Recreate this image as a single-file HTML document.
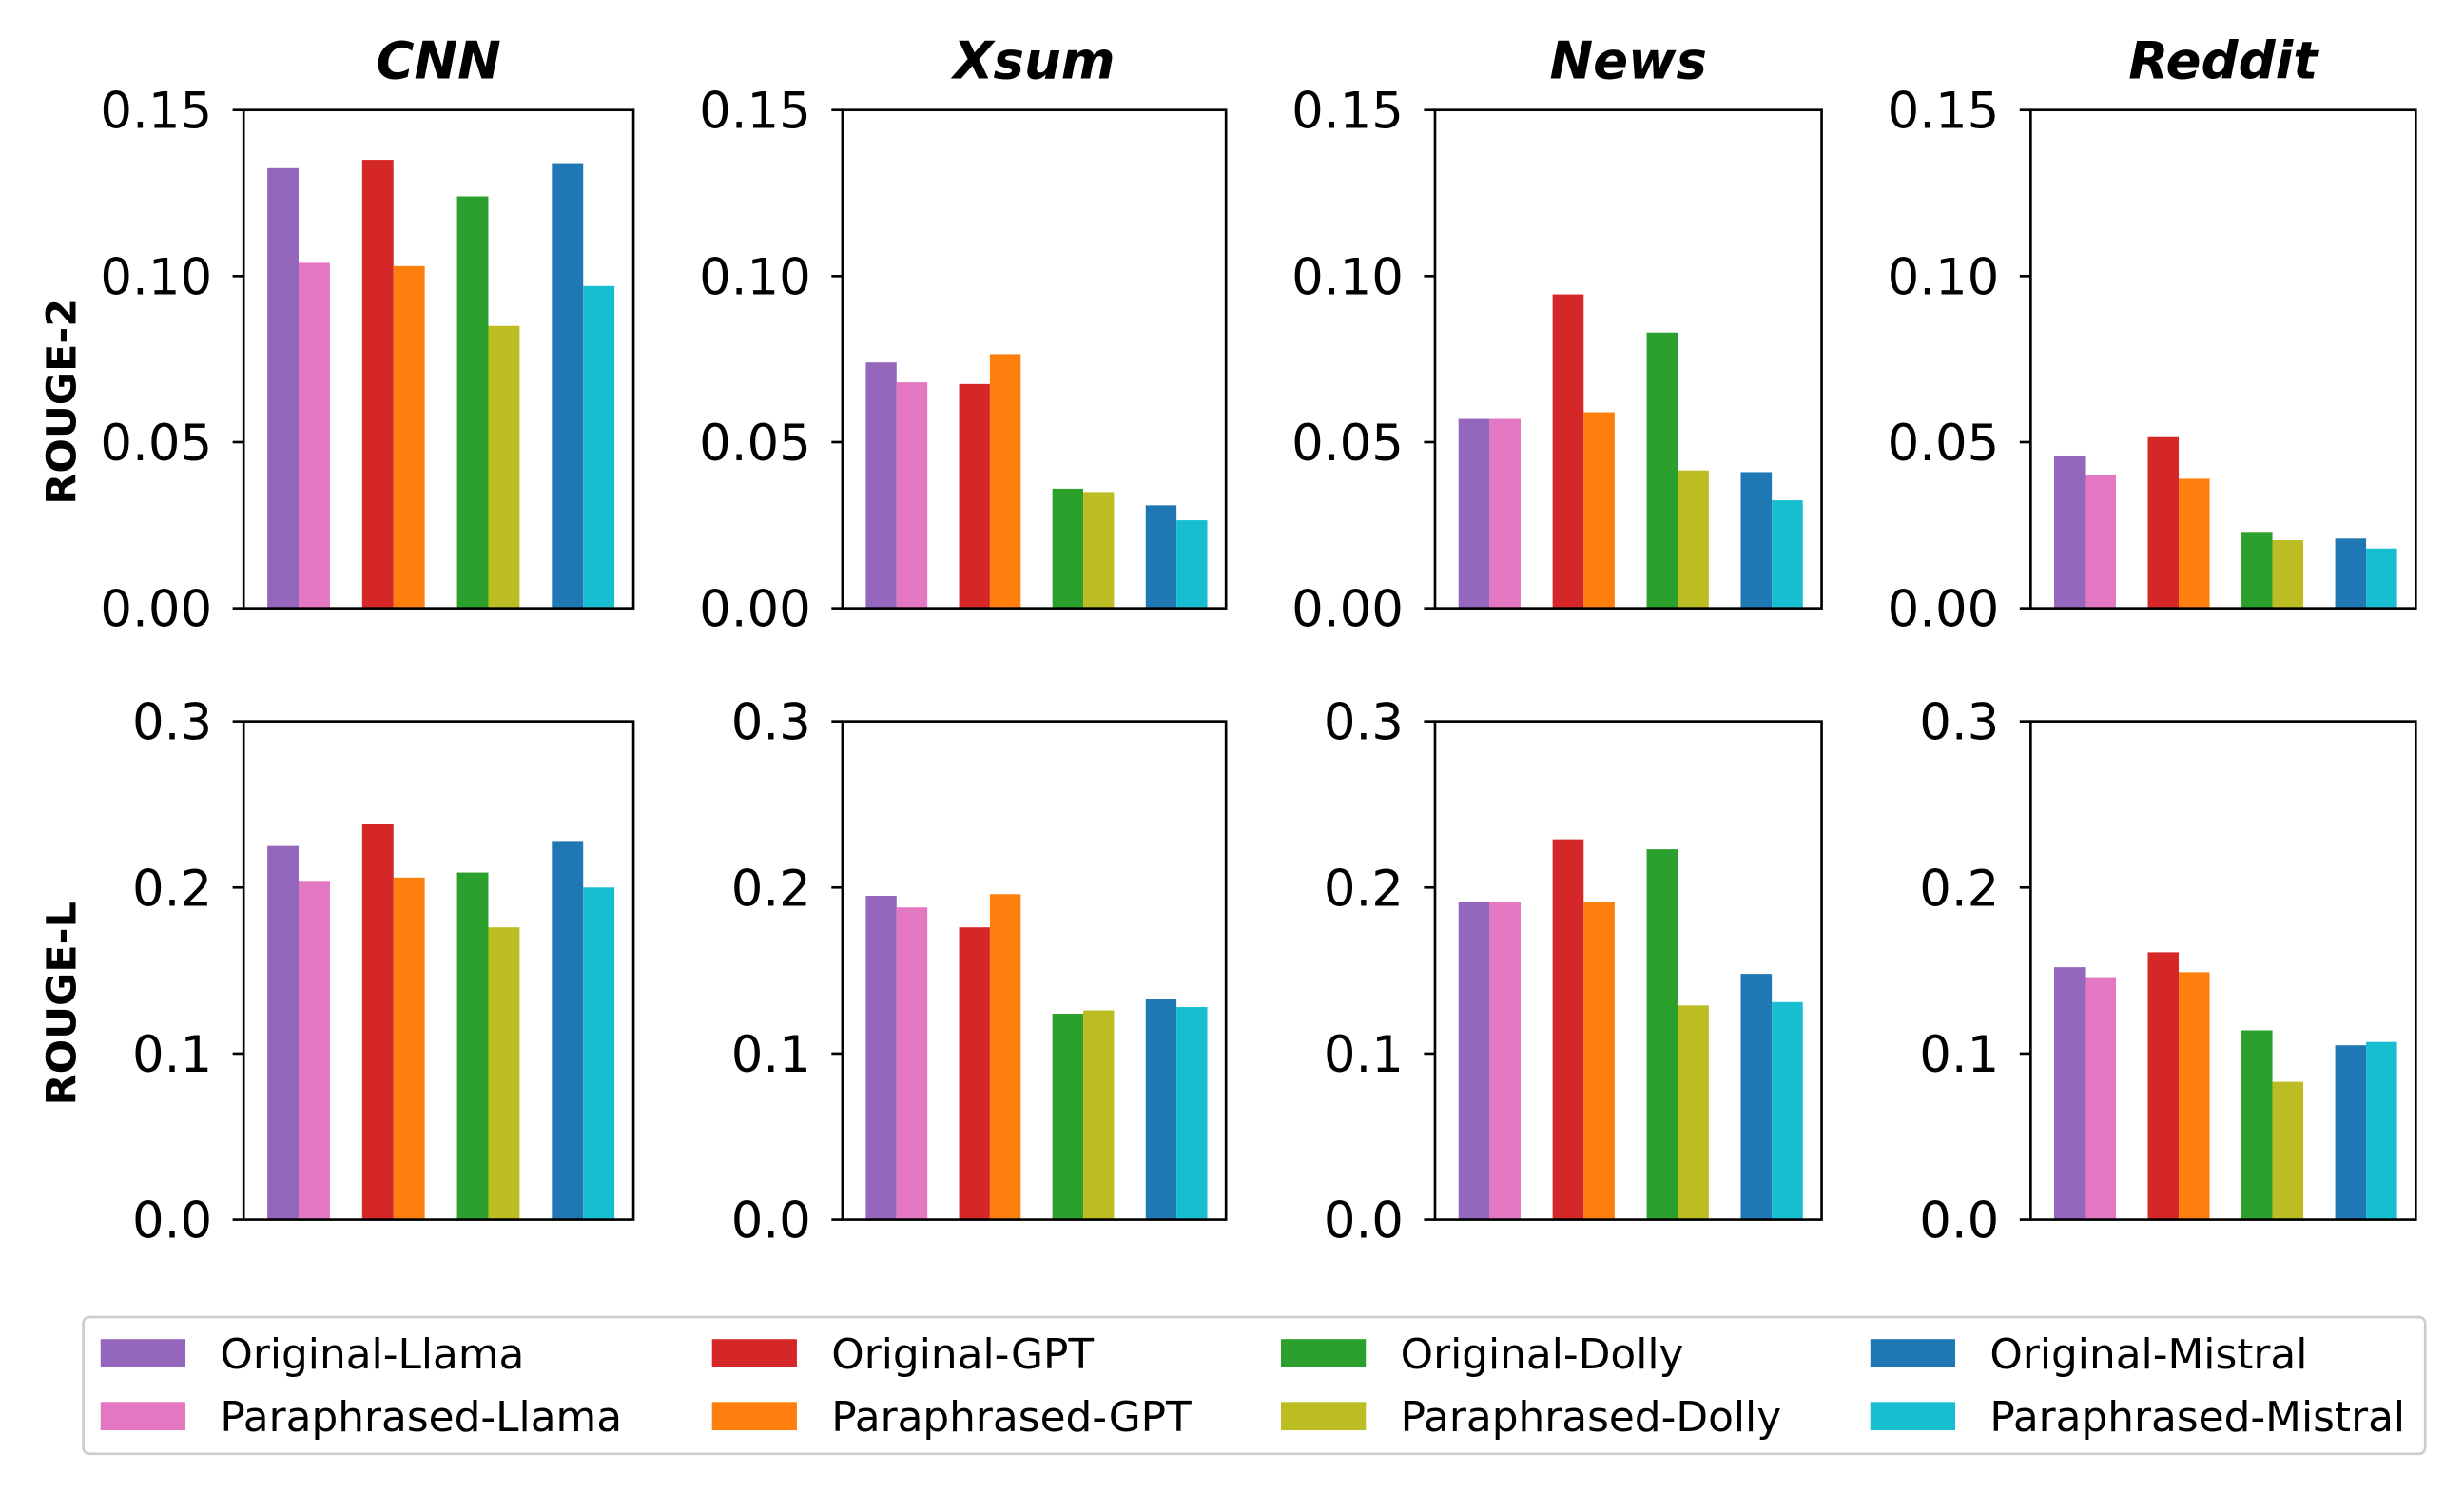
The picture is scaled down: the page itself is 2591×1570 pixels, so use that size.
<!DOCTYPE html>
<html><head><meta charset="utf-8"><style>
html,body{margin:0;padding:0;background:#fff}
svg{display:block}
text{font-family:"DejaVu Sans","Liberation Sans",sans-serif;fill:#000}
</style></head><body>
<svg id="chart" width="2591" height="1570" viewBox="0 0 1552 940.4" preserveAspectRatio="none" xmlns="http://www.w3.org/2000/svg"><g id="root" transform="scale(0.99)"></g></svg>
<script>
const datasets = ["CNN","Xsum","News","Reddit"];
const metrics = ["ROUGE-2","ROUGE-L"];
const series = ["Original-Llama","Paraphrased-Llama","Original-GPT","Paraphrased-GPT","Original-Dolly","Paraphrased-Dolly","Original-Mistral","Paraphrased-Mistral"];
const colors = ["#9467bd","#e377c2","#d62728","#ff7f0e","#2ca02c","#bcbd22","#1f77b4","#17becf"];
const rouge2CNN = [0.1325,0.104,0.135,0.103,0.124,0.085,0.134,0.097];
const rouge2Xsum = [0.074,0.068,0.0675,0.0765,0.036,0.035,0.031,0.0265];
const rouge2News = [0.057,0.057,0.0945,0.059,0.083,0.0415,0.041,0.0325];
const rouge2Reddit = [0.046,0.040,0.0515,0.039,0.023,0.0205,0.021,0.018];
const rougeLCNN = [0.225,0.204,0.238,0.206,0.209,0.176,0.228,0.200];
const rougeLXsum = [0.195,0.188,0.176,0.196,0.124,0.126,0.133,0.128];
const rougeLNews = [0.191,0.191,0.229,0.191,0.223,0.129,0.148,0.131];
const rougeLReddit = [0.152,0.146,0.161,0.149,0.114,0.083,0.105,0.107];
const ticksR2 = [0,0.05,0.10,0.15];
const tickLabelsR2 = ["0.00","0.05","0.10","0.15"];
const ticksRL = [0,0.1,0.2,0.3];
const tickLabelsRL = ["0.0","0.1","0.2","0.3"];

const values = [[rouge2CNN,rouge2Xsum,rouge2News,rouge2Reddit],[rougeLCNN,rougeLXsum,rougeLNews,rougeLReddit]];
const ticks = [ticksR2,ticksRL], tickLabels=[tickLabelsR2,tickLabelsRL], ymax=[0.15,0.3];
const NS="http://www.w3.org/2000/svg";
const svg=document.getElementById('root');
function mk(tag,attrs,parent){const e=document.createElementNS(NS,tag);for(const k in attrs)e.setAttribute(k,attrs[k]);(parent||svg).appendChild(e);return e;}
const axX=[[155,403],[536,780],[913,1159],[1292,1537]];
const axY=[[70,387],[459,776]];
const labOff=[27,21];
const xmin=-0.58,xmax=3.53,bw=0.33;
for(let r=0;r<2;r++){
  const cy=(axY[r][0]+axY[r][1])/2+labOff[r];
  const yl=mk('text',{x:48,y:cy,'font-size':26,'font-weight':'bold','text-anchor':'middle',transform:`rotate(-90 48 ${cy})`});
  yl.textContent=metrics[r];
  
  
  for(let c=0;c<4;c++){
    const [x0,x1]=axX[c],[y0,y1]=axY[r];
    const g=mk('g',{});
    
    
    const sx=v=>x0+(v-xmin)/(xmax-xmin)*(x1-x0);
    const sy=v=>y1-v/ymax[r]*(y1-y0);
    values[r][c].forEach((v,i)=>{
      const grp=Math.floor(i/2), off=(i%2===0?-bw:0);
      const b=mk('rect',{x:sx(grp+off),y:sy(v),width:sx(grp+off+bw)-sx(grp+off),height:sy(0)-sy(v),fill:colors[i]},g);
      
      
    });
    mk('rect',{x:x0,y:y0,width:x1-x0,height:y1-y0,fill:'none',stroke:'#000','stroke-width':1.6},g);
    ticks[r].forEach((t,k)=>{
      mk('line',{x1:x0-7,x2:x0,y1:sy(t),y2:sy(t),stroke:'#000','stroke-width':1.6},g);
      const tl=mk('text',{x:x0-20,y:sy(t)+11.5,'font-size':32,'text-anchor':'end'},g);
      tl.textContent=tickLabels[r][k];
      
      
    });
    if(r===0){
      const t=mk('text',{x:(x0+x1)/2,y:50,'font-size':33,'font-weight':'bold','font-style':'italic','text-anchor':'middle'},g);
      t.textContent=datasets[c];
      
      
    }
  }
}
const lg=mk('g',{});


mk('rect',{x:53,y:838,width:1490,height:87,rx:4,fill:'#fff',stroke:'#ccc','stroke-width':1.6},lg);
const colX=[64,453,815,1190], rowY=[852,892];
series.forEach((s,i)=>{
  const cx=colX[Math.floor(i/2)], cy=rowY[i%2];
  const e=mk('g',{},lg);
  
  
  mk('rect',{x:cx,y:cy,width:54,height:18,fill:colors[i]},e);
  const t=mk('text',{x:cx+76,y:cy+18.5,'font-size':26.5},e);
  t.textContent=s;
});
</script>
</body></html>
